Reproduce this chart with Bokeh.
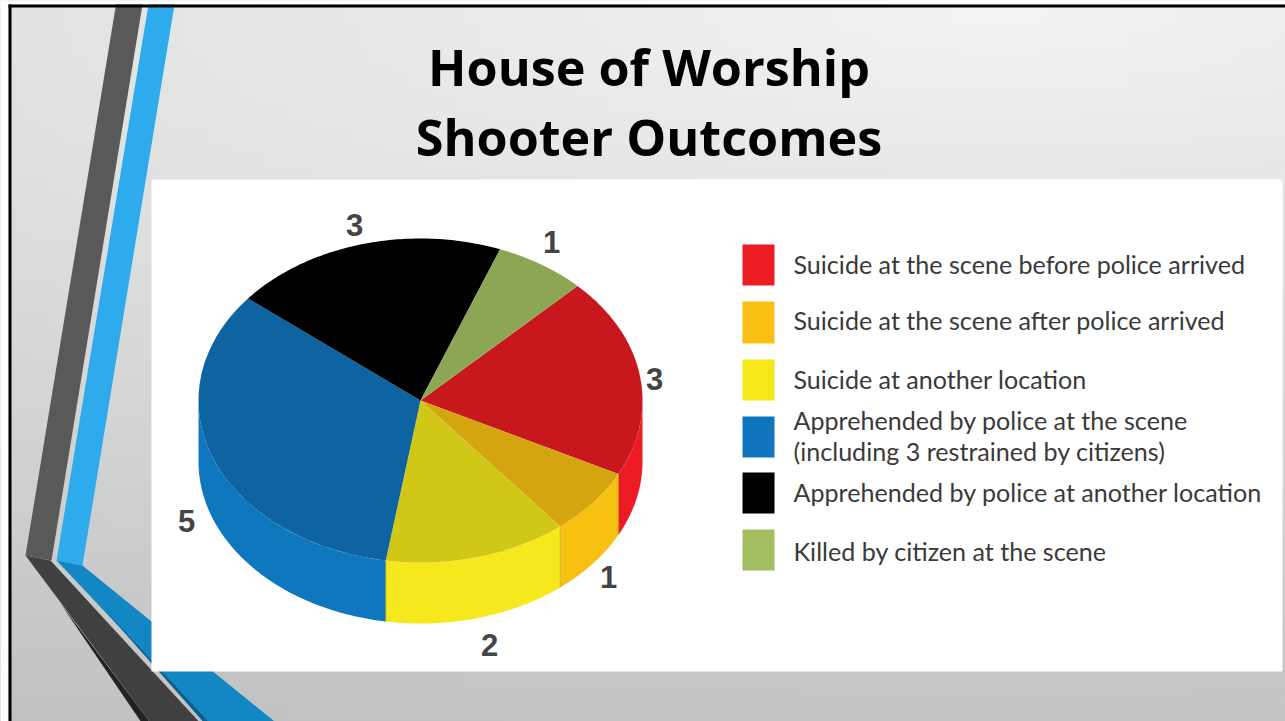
import numpy as np
from bokeh.plotting import figure
from bokeh.core.properties import value
from bokeh.embed import file_html
from bokeh.resources import INLINE

# ---- data ----
categories = ["Suicide at the scene before police arrived",
              "Suicide at the scene after police arrived",
              "Suicide at another location",
              "Apprehended by police at the scene\n(including 3 restrained by citizens)",
              "Apprehended by police at another location",
              "Killed by citizen at the scene"]
counts = [3, 1, 2, 5, 3, 1]
title_lines = ["House of Worship", "Shooter Outcomes"]

# ---- styles ----
top_colors = ["#C8181D", "#D4A50E", "#D0C716", "#0E64A0", "#000000", "#8DA653"]
wall_colors = ["#ED1C24", "#F8C010", "#F5E81C", "#0F77BD", "#000000", "#8DA653"]
key_colors = ["#ED1C24", "#F9BF13", "#F6E71B", "#0F75BC", "#000000", "#A3BE61"]
CX, CY, RX, RY, DEPTH = 420.0, 400.0, 222.0, 162.0, 61.0
START = 45.0
label_pos = [(654, 378), (608, 576), (489, 644), (186, 520), (354, 224), (551, 241)]
key_y = [(244, 285), (301, 343), (359, 400), (416, 457), (472, 513), (529, 570)]
text_y = [[263], [319], [378], [419, 450], [491], [550]]

W, H = 1285, 721
p = figure(width=W, height=H, x_range=(0, W), y_range=(H, 0),
           output_backend="svg", toolbar_location=None, min_border=0,
           outline_line_color=None, background_fill_color="#ffffff", border_fill_color="#ffffff")
p.axis.visible = False
p.grid.visible = False

# slide background gradient (cells)
CELL = 12
gx, gy = np.meshgrid(np.arange(0, W, CELL), np.arange(0, H, CELL))
gx, gy = gx.ravel(), gy.ravel()
d = np.sqrt((np.abs(gx + CELL / 2 - 1000.0) * 0.017) ** 2 + ((gy + CELL / 2 - 10.0) * 0.066) ** 2)
v = 243 - d
cols = ["#%02X%02X%02X" % (int(c) - 1, int(c) + 1, int(c) + 1) for c in v]
p.quad(left=gx, right=gx + CELL, top=gy, bottom=gy + CELL, fill_color=cols, line_color=cols, line_width=1)
p.quad(left=0, right=8, top=0, bottom=H, color="#FFFFFF", line_color=None)
p.quad(left=0, right=W, top=0, bottom=4, color="#FFFFFF", line_color=None)

# decorative bands
p.patch([148, 174, 82, 56], [4, 4, 565, 560], color="#2DABEC", line_color=None)
p.patch([115.5, 142, 51, 25], [4, 4, 560, 555], color="#595959", line_color=None)
p.patch([56, 82, 279, 212], [560, 565, 725, 725], color="#1287C4", line_color=None)
p.patch([100, 212, 206], [605, 725, 725], color="#0B5F8C", line_color=None)
p.patch([25, 50, 202, 152], [555, 560, 725, 725], color="#404040", line_color=None)
p.patch([60, 152, 143], [603, 725, 725], color="#222222", line_color=None)

# slide frame
p.quad(left=8, right=11, top=4, bottom=721, color="#000000", line_color=None)
p.quad(left=8, right=1285, top=4, bottom=7, color="#000000", line_color=None)

# white panel
p.quad(left=151, right=1282, top=179, bottom=671, color="#FFFFFF", line_color=None)

# pie
total = sum(counts)
angles = START - np.cumsum([0] + counts) / total * 360.0
for i in range(len(counts)):
    a0, a1 = angles[i], angles[i + 1]
    hi, lo = min(a0, 0.0), max(a1, -180.0)
    if hi > lo:
        t = np.radians(np.linspace(hi, lo, 80))
        ex, ey = CX + RX * np.cos(t), CY - RY * np.sin(t)
        p.patch(np.r_[ex, ex[::-1]], np.r_[ey, (ey + DEPTH)[::-1]],
                color=wall_colors[i], line_color=None)
for b in angles[1:4]:
    t = np.radians(b)
    x = CX + RX * np.cos(t)
    y = CY - RY * np.sin(t)
    p.line([x, x], [y, y + DEPTH], line_color="#B79A1A", line_width=1, line_alpha=0.6)
for i in range(len(counts)):
    t = np.radians(np.linspace(angles[i], angles[i + 1], 100))
    p.patch(np.r_[CX, CX + RX * np.cos(t)], np.r_[CY, CY - RY * np.sin(t)],
            color=top_colors[i], line_color=None)

# count labels
p.text([q[0] for q in label_pos], [q[1] for q in label_pos], text=[str(c) for c in counts],
       text_font=value("Liberation Sans"), text_font_style="bold", text_font_size=value("31px"),
       text_color="#444444", text_align="center", text_baseline="middle")

# legend
for i, cat in enumerate(categories):
    p.quad(left=742, right=774, top=key_y[i][0], bottom=key_y[i][1], color=key_colors[i], line_color=None)
    for line, y in zip(cat.split("\n"), text_y[i]):
        p.text([793], [y], text=[line], text_font=value("Lato"), text_font_size=value("25.1px"),
               text_color="#3A3A3A", text_align="left", text_baseline="middle")

# title
p.text([648.5, 648.5], [66, 136], text=title_lines, text_font=value("Open Sans"), text_font_style="bold",
       text_font_size=value("50.3px"), text_color="#000000", text_align="center", text_baseline="middle")

open("out.html", "w").write(file_html(p, INLINE))
